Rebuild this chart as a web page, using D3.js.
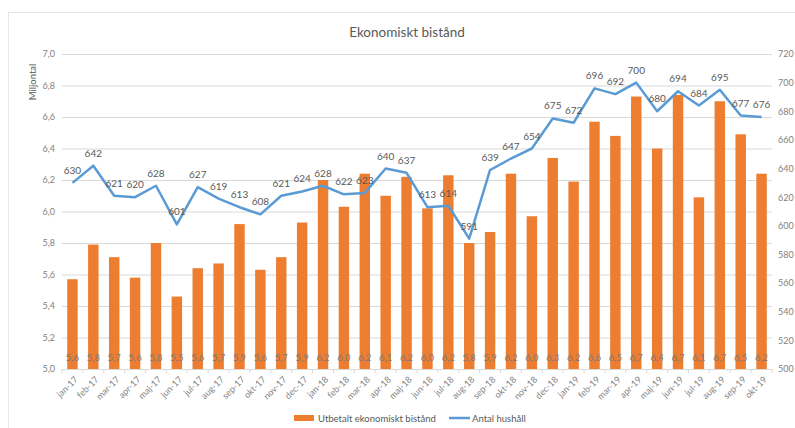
<!DOCTYPE html>
<html>
<head>
<meta charset="utf-8">
<script src="https://cdn.jsdelivr.net/npm/d3@7"></script>
<style>
  body { margin: 0; background: #fff; }
  text { font-family: Lato, "Open Sans", sans-serif; fill: #595959; }
</style>
</head>
<body>
<div id="chart"></div>
<script>
// DATA
var months = ["jan-17", "feb-17", "mar-17", "apr-17", "maj-17", "jun-17", "jul-17", "aug-17",
  "sep-17", "okt-17", "nov-17", "dec-17", "jan-18", "feb-18", "mar-18", "apr-18", "maj-18",
  "jun-18", "jul-18", "aug-18", "sep-18", "okt-18", "nov-18", "dec-18", "jan-19", "feb-19",
  "mar-19", "apr-19", "maj-19", "jun-19", "jul-19", "aug-19", "sep-19", "okt-19"];

// Utbetalt ekonomiskt bistånd (miljontal)
var payout = [5.57, 5.79, 5.71, 5.58, 5.80, 5.46, 5.64, 5.67, 5.92, 5.63, 5.71, 5.93,
  6.20, 6.03, 6.24, 6.10, 6.22, 6.02, 6.23, 5.80, 5.87, 6.24, 5.97, 6.34, 6.19, 6.57,
  6.48, 6.73, 6.40, 6.74, 6.09, 6.70, 6.49, 6.24];

// Antal hushåll
var households = [630, 642, 621, 620, 628, 601, 627, 619, 613, 608, 621, 624,
  628, 622, 623, 640, 637, 613, 614, 591, 639, 647, 654, 675, 672, 696,
  692, 700, 680, 694, 684, 695, 677, 676];

var leftTicks = [5.0, 5.2, 5.4, 5.6, 5.8, 6.0, 6.2, 6.4, 6.6, 6.8, 7.0];
var rightTicks = [500, 520, 540, 560, 580, 600, 620, 640, 660, 680, 700, 720];

var rows = months.map(function (m, i) {
  return { month: m, payout: payout[i], households: households[i] };
});

// SETUP
var W = 795, H = 428;
var orange = "#ED7D31", blue = "#5B9BD5", grid = "#d9d9d9";
var plot = { left: 62, right: 772, top: 54, bottom: 369 };
var comma = function (v) { return v.toFixed(1).replace(".", ","); };

var svg = d3.select("#chart").append("svg")
  .attr("width", W).attr("height", H);

// chart frame
svg.append("rect")
  .attr("x", 8.5).attr("y", 12.5)
  .attr("width", 800).attr("height", 440)
  .attr("fill", "none").attr("stroke", "#e6e6e6");

// SCALES
var x = d3.scaleBand().domain(months)
  .range([plot.left, plot.right])
  .paddingInner(0.5).paddingOuter(0.25);
var yL = d3.scaleLinear().domain([5, 7]).range([plot.bottom, plot.top]);
var yR = d3.scaleLinear().domain([500, 720]).range([plot.bottom, plot.top]);

// TITLE
svg.append("text")
  .attr("x", 407).attr("y", 37)
  .attr("text-anchor", "middle")
  .style("font-size", "13.5px")
  .text("Ekonomiskt bistånd");

// GRIDLINES
svg.append("g").selectAll("line")
  .data(leftTicks.slice(1))
  .enter().append("line")
  .attr("x1", plot.left).attr("x2", plot.right)
  .attr("y1", function (d) { return yL(d) + 0.5; })
  .attr("y2", function (d) { return yL(d) + 0.5; })
  .attr("stroke", grid);

// LEFT AXIS
var leftAxis = svg.append("g")
  .attr("transform", "translate(" + (plot.left - 7) + ",0)")
  .call(d3.axisLeft(yL).tickValues(leftTicks).tickFormat(comma).tickSize(0).tickPadding(0));
leftAxis.select(".domain").remove();
leftAxis.selectAll("text").style("font-size", "9px").style("fill", "#7f7f7f");

svg.append("text")
  .attr("transform", "translate(36,82) rotate(-90)")
  .attr("text-anchor", "middle")
  .style("font-size", "9.5px")
  .text("Miljontal");

// RIGHT AXIS
var rightAxis = svg.append("g")
  .attr("transform", "translate(" + (plot.right + 6) + ",0)")
  .call(d3.axisRight(yR).tickValues(rightTicks).tickSize(0).tickPadding(0));
rightAxis.select(".domain").remove();
rightAxis.selectAll("text").style("font-size", "9px").style("fill", "#7f7f7f");

// BARS
svg.append("g").selectAll("rect")
  .data(rows)
  .enter().append("rect")
  .attr("x", function (d) { return x(d.month); })
  .attr("width", x.bandwidth())
  .attr("y", function (d) { return yL(d.payout); })
  .attr("height", function (d) { return yL(5) - yL(d.payout); })
  .attr("fill", orange);

// bar labels at the base
svg.append("g").selectAll("text")
  .data(rows)
  .enter().append("text")
  .attr("x", function (d) { return x(d.month) + x.bandwidth() / 2; })
  .attr("y", plot.bottom - 8)
  .attr("text-anchor", "middle")
  .style("font-size", "9.5px")
  .style("fill", "#7a7a7a")
  .text(function (d) { return comma(d.payout); });

// X AXIS
svg.append("line")
  .attr("x1", plot.left).attr("x2", plot.right)
  .attr("y1", plot.bottom + 0.5).attr("y2", plot.bottom + 0.5)
  .attr("stroke", grid);

svg.append("g").selectAll("line")
  .data(months.concat(["end"]))
  .enter().append("line")
  .attr("x1", function (d, i) { return plot.left + i * x.step(); })
  .attr("x2", function (d, i) { return plot.left + i * x.step(); })
  .attr("y1", plot.bottom).attr("y2", plot.bottom + 4)
  .attr("stroke", grid);

svg.append("g").selectAll("text")
  .data(months)
  .enter().append("text")
  .attr("transform", function (d) {
    return "translate(" + (x(d) + x.bandwidth() / 2 + 6) + "," + (plot.bottom + 11) + ") rotate(-45)";
  })
  .attr("text-anchor", "end")
  .style("font-size", "9px")
  .style("fill", "#7f7f7f")
  .text(function (d) { return d; });

// LINE
var line = d3.line()
  .x(function (d) { return x(d.month) + x.bandwidth() / 2; })
  .y(function (d) { return yR(d.households); });

svg.append("path")
  .datum(rows)
  .attr("d", line)
  .attr("fill", "none")
  .attr("stroke", blue)
  .attr("stroke-width", 2.5)
  .attr("stroke-linejoin", "round");

svg.append("g").selectAll("text")
  .data(rows)
  .enter().append("text")
  .attr("x", function (d) { return x(d.month) + x.bandwidth() / 2; })
  .attr("y", function (d) { return yR(d.households) - 9; })
  .attr("text-anchor", "middle")
  .style("font-size", "10px")
  .text(function (d) { return d.households; });

// LEGEND
var legend = svg.append("g").attr("transform", "translate(0,418)");
legend.append("rect")
  .attr("x", 294).attr("y", -3).attr("width", 20).attr("height", 6)
  .attr("fill", orange);
legend.append("text")
  .attr("x", 318).attr("y", 3.5)
  .style("font-size", "9.5px")
  .text("Utbetalt ekonomiskt bistånd");
legend.append("line")
  .attr("x1", 449).attr("x2", 470).attr("y1", 0).attr("y2", 0)
  .attr("stroke", blue).attr("stroke-width", 2.5);
legend.append("text")
  .attr("x", 472).attr("y", 3.5)
  .style("font-size", "9.5px")
  .text("Antal hushåll");
</script>
</body>
</html>
